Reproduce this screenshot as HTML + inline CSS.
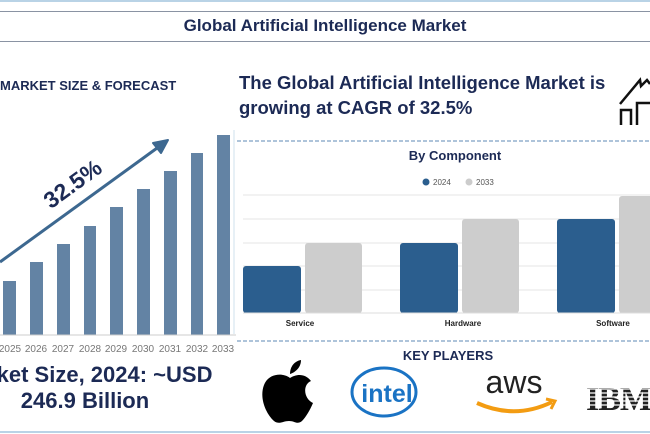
<!DOCTYPE html>
<html><head><meta charset="utf-8"><style>
*{margin:0;padding:0;box-sizing:border-box}
body{width:650px;height:434px;background:#fff;position:relative;overflow:hidden;font-family:"Liberation Sans",sans-serif;color:#1c2a55}
.a{position:absolute;white-space:nowrap}
</style></head><body>
<div class="a" style="left:0;top:0;width:650px;height:2px;background:#b9d3e6"></div>
<div class="a" style="left:0;top:11px;width:650px;height:1px;background:#8a93a3"></div>
<div class="a" style="left:0;top:41px;width:650px;height:1px;background:#8a93a3"></div>
<div class="a" style="left:0;top:16px;width:650px;text-align:center;font-weight:bold;font-size:17px">Global Artificial Intelligence Market</div>
<div class="a" style="left:0;top:78px;font-weight:bold;font-size:13px">MARKET SIZE &amp; FORECAST</div>
<div class="a" style="left:239px;top:70px;font-weight:bold;font-size:18.5px;line-height:25px">The Global Artificial Intelligence Market is<br>growing at CAGR of 32.5%</div>
<svg class="a" style="left:0;top:0" width="650" height="434">
<g fill="none" stroke="#111" stroke-width="2.5">
<path d="M620 104 L640 80 L641 86 L647 80 L650 84"/>
<path d="M621 125 V110 H631 V125 M637 125 V103 H650"/>
</g>
<g fill="#6383a4">
<rect x="3" y="281" width="13" height="54"/><rect x="30" y="262" width="13" height="73"/>
<rect x="57" y="244" width="13" height="91"/><rect x="84" y="226" width="12" height="109"/>
<rect x="110" y="207" width="13" height="128"/><rect x="137" y="189" width="13" height="146"/>
<rect x="164" y="171" width="13" height="164"/><rect x="191" y="153" width="12" height="182"/>
<rect x="217" y="135" width="13" height="200"/></g>
<line x1="0" y1="335" x2="236" y2="335" stroke="#ccc"/>
<g font-size="10" fill="#777" text-anchor="middle">
<text x="10" y="352">2025</text><text x="36" y="352">2026</text><text x="63" y="352">2027</text><text x="90" y="352">2028</text><text x="116" y="352">2029</text><text x="143" y="352">2030</text><text x="170" y="352">2031</text><text x="197" y="352">2032</text><text x="223" y="352">2033</text></g>
<line x1="0" y1="262" x2="164" y2="143" stroke="#3d6890" stroke-width="3"/>
<path d="M168 140 L153 143 L161 153 Z" fill="#3d6890" stroke="#3d6890" stroke-width="2" stroke-linejoin="round"/>
<text x="72" y="192" font-size="23" font-weight="bold" fill="#1c2a55" text-anchor="middle" transform="rotate(-36 72 183)">32.5%</text>
<line x1="234" y1="130" x2="234" y2="334" stroke="#cfe0ee"/>
<line x1="237" y1="141" x2="650" y2="141" stroke="#5d8ab4" stroke-dasharray="4 2"/>
<line x1="237" y1="341" x2="650" y2="341" stroke="#5d8ab4" stroke-dasharray="4 2"/>
<text x="455" y="160" font-size="13" font-weight="bold" fill="#1c2a55" text-anchor="middle">By Component</text>
<circle cx="426" cy="182" r="3.5" fill="#2b5e8e"/><text x="433" y="185" font-size="8" fill="#555">2024</text>
<circle cx="469" cy="182" r="3.5" fill="#ccc"/><text x="476" y="185" font-size="8" fill="#555">2033</text>
<g stroke="#e6e6e6"><line x1="243" y1="195" x2="650" y2="195"/><line x1="243" y1="219" x2="650" y2="219"/><line x1="243" y1="243" x2="650" y2="243"/><line x1="243" y1="266" x2="650" y2="266"/><line x1="243" y1="290" x2="650" y2="290"/></g>
<g fill="#2b5e8e"><rect x="243" y="266" width="58" height="47" rx="3"/><rect x="400" y="243" width="58" height="70" rx="3"/><rect x="557" y="219" width="58" height="94" rx="3"/></g>
<g fill="#cdcdcd"><rect x="305" y="243" width="57" height="70" rx="3"/><rect x="462" y="219" width="57" height="94" rx="3"/><rect x="619" y="196" width="40" height="117" rx="3"/></g>
<line x1="243" y1="313" x2="650" y2="313" stroke="#ddd"/>
<g font-size="8" font-weight="bold" fill="#222" text-anchor="middle"><text x="300" y="326">Service</text><text x="463" y="326">Hardware</text><text x="613" y="326">Software</text></g>
<text x="448" y="360" font-size="13" font-weight="bold" fill="#1c2a55" text-anchor="middle">KEY PLAYERS</text>
<path d="M290 378 C282 372 268 374 264 385 C259 398 266 414 274 421 C279 425 283 421 289 421 C295 421 297 425 302 421 C306 417 310 410 313 403 C304 399 302 385 311 381 C305 373 296 374 290 378 Z" fill="#000"/>
<path d="M290 374 C290 366 295 361 301 360 C301 367 296 372 290 374 Z" fill="#000"/>
<ellipse cx="384" cy="392" rx="32" ry="24" fill="none" stroke="#1a73c4" stroke-width="3"/>
<text x="387" y="402" font-size="25" fill="#1a73c4" text-anchor="middle" font-weight="bold">intel</text>
<text x="514" y="393" font-size="32" fill="#222" text-anchor="middle">aws</text>
<path d="M477 403 Q515 420 552 402" fill="none" stroke="#f39c12" stroke-width="4"/>
<path d="M546 399 L555 401 L551 409" fill="none" stroke="#f39c12" stroke-width="3"/>
<text x="586" y="410" font-size="34" font-family="Liberation Serif" font-weight="bold" fill="#222" letter-spacing="-1">IBM</text>
<g stroke="#fff" stroke-width="1.3"><line x1="585" y1="381" x2="650" y2="381"/><line x1="585" y1="385" x2="650" y2="385"/><line x1="585" y1="389" x2="650" y2="389"/><line x1="585" y1="393" x2="650" y2="393"/><line x1="585" y1="397" x2="650" y2="397"/><line x1="585" y1="401" x2="650" y2="401"/><line x1="585" y1="405" x2="650" y2="405"/></g>
<line x1="0" y1="432" x2="650" y2="432" stroke="#b9d3e6" stroke-width="2"/>
</svg>
<div class="a" style="left:-60px;top:362px;width:290px;text-align:center;font-weight:bold;font-size:22px;line-height:26px">Market Size, 2024: ~USD<br>246.9 Billion</div>
</body></html>
